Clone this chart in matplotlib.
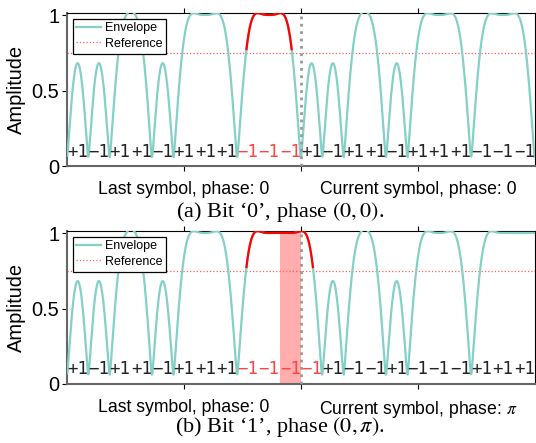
import numpy as np
import matplotlib.pyplot as plt

plt.rcParams['font.family'] = 'Liberation Sans'
plt.rcParams['mathtext.fontset'] = 'stix'

# chips (11-chip Barker code) shown in the two panels
last_symbol = [+1, -1, +1, +1, -1, +1, +1, +1, -1, -1, -1]
current_a = [+1, -1, +1, +1, -1, +1, +1, +1, -1, -1, -1]
current_b = [-1, +1, -1, -1, +1, -1, -1, -1, +1, +1, +1]
pad_before = [-1, -1, -1]
pad_after_a = [+1, -1, +1]
pad_after_b = [+1, +1, +1]

red_chips_a = [8, 9, 10]
red_chips_b = [8, 9, 10, 11]
shade_chip_b = 10

tick_pos = [5.5, 11, 16.5]
ref_level = 0.75
floor = 0.06
sps = 40
fc, W = 0.52, 1.5  # low-pass shaping of the chips


def envelope(chips):
    wave = np.repeat(chips, sps).astype(float)
    t = np.arange(-int(W * sps), int(W * sps) + 1) / sps
    kern = np.sinc(2 * fc * t) * 0.5 * (1 + np.cos(np.pi * t / W))
    kern /= kern.sum()
    s = np.convolve(wave, kern, mode='same')
    return np.sqrt(s ** 2 + floor ** 2)


def draw(ax, chips_cur, pad_after, red_chips, phase, shade=None):
    chips = pad_before + last_symbol + chips_cur + pad_after
    env = envelope(chips)
    x = np.arange(len(env)) / sps + 0.5 / sps - len(pad_before)
    keep = (x >= -0.01) & (x <= 22.01)
    x, env = x[keep], env[keep]
    if shade is not None:
        ax.axvspan(shade, shade + 1, color='red', alpha=0.32, lw=0, zorder=1)
    ax.plot(x, env, color='#85d0c4', lw=1.6, label='Envelope', zorder=3)
    lo, hi = min(red_chips), max(red_chips) + 1
    red = np.where((x >= lo) & (x <= hi) & (env >= ref_level), env, np.nan)
    ax.plot(x, red, color='red', lw=1.6, zorder=4)
    ax.axhline(ref_level, color='#ff5c5c', lw=0.9, ls=':', label='Reference', zorder=2)
    ax.axvline(11, color='#999999', lw=2.0, ls=':', zorder=5)
    shown = last_symbol + chips_cur
    for k, c in enumerate(shown):
        col = '#ff4444' if k in red_chips else '#222222'
        ax.text(k + 0.5, 0.065, ('+1' if c > 0 else '\u22121'), ha='center', va='baseline',
                family='DejaVu Sans Mono', fontsize=12.5, color=col, zorder=6)
    ax.set_xlim(0, 22)
    ax.set_ylim(0, 1.015)
    ax.set_xticks(tick_pos)
    ax.set_xticklabels(['Last symbol, phase: 0', '', 'Current symbol, phase: ' + phase])
    ax.set_yticks([0, 0.5, 1])
    ax.set_yticklabels(['0', '0.5', '1'])
    ax.tick_params(axis='x', top=True, direction='out', length=3.5, pad=7, labelsize=12.7)
    ax.tick_params(axis='y', direction='out', length=3.5, labelsize=14.4, pad=2)
    for side in ['left', 'bottom']:
        ax.spines[side].set_color('#666666')
        ax.spines[side].set_linewidth(1.5)
    ax.set_ylabel('Amplitude', fontsize=14.4)
    ax.yaxis.set_label_coords(-0.088, 0.5)
    leg = ax.legend(loc='upper left', fontsize=9, fancybox=False, framealpha=1,
                    edgecolor='black', labelspacing=0.28, borderpad=0.3, handlelength=2.0,
                    handletextpad=0.3, borderaxespad=0.45)
    leg.get_frame().set_linewidth(0.9)


fig = plt.figure(figsize=(5.36, 4.43), dpi=100)
ax_a = fig.add_axes([0.125, 0.6242, 0.873, 0.3465])
ax_b = fig.add_axes([0.125, 0.1332, 0.873, 0.3454])

draw(ax_a, current_a, pad_after_a, red_chips_a, '0')
draw(ax_b, current_b, pad_after_b, red_chips_b, r'$\pi$', shade=shade_chip_b)

fig.text(0.522, 0.5214, '(a) Bit \u20180\u2019, phase $(0, 0)$.', ha='center', va='center',
         family='Liberation Serif', fontsize=16)
fig.text(0.522, 0.036, '(b) Bit \u20181\u2019, phase $(0, \\pi)$.', ha='center', va='center',
         family='Liberation Serif', fontsize=16)

fig.savefig('out.png', dpi=100)
